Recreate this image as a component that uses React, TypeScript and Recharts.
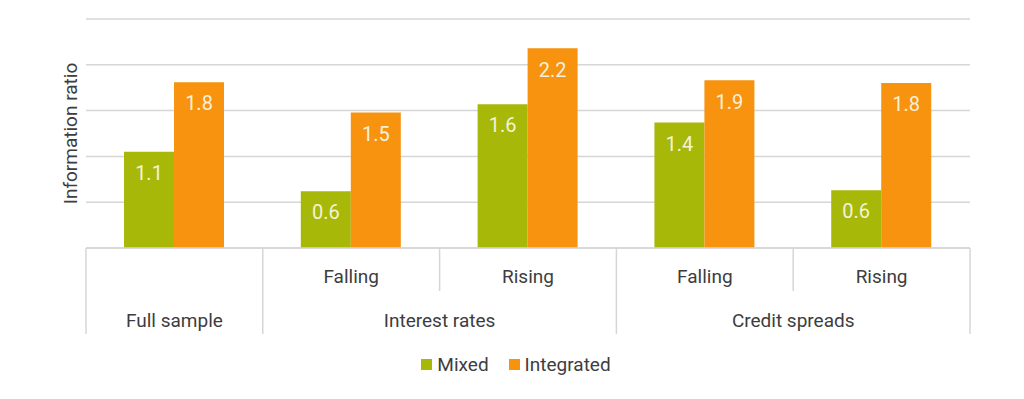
import { Bar, BarChart, CartesianGrid, LabelList, Legend, XAxis, YAxis } from 'recharts';

const groups = ['Full sample', 'Interest rates', 'Interest rates', 'Credit spreads', 'Credit spreads'];
const subs = ['', 'Falling', 'Rising', 'Falling', 'Rising'];
const mixed = [1.05, 0.62, 1.57, 1.37, 0.63];
const integrated = [1.81, 1.48, 2.18, 1.83, 1.8];
const mixedLabels = ['1.1', '0.6', '1.6', '1.4', '0.6'];
const integratedLabels = ['1.8', '1.5', '2.2', '1.9', '1.8'];
const yTicks = [0, 0.5, 1, 1.5, 2, 2.5];

const GREEN = '#a8b808';
const ORANGE = '#f7930e';
const TEXT = '#3d3d3d';
const LINE = '#d6d6d6';
const FONT = 'Roboto, "Noto Sans", sans-serif';

const data = groups.map((g, i) => ({
    key: `${g}|${subs[i]}`,
    mixed: mixed[i],
    integrated: integrated[i],
    mixedLabel: mixedLabels[i],
    integratedLabel: integratedLabels[i],
}));

// y ticks are not shown in the original, only the gridlines
const EmptyTick = (): React.ReactElement => <g />;

const CategoryTick = (props: any): React.ReactElement => {
    const {x, y, index, payload} = props;
    const half = payload?.offset || 88.3;
    const left = x - half;
    const isGroupStart = index === 0 || groups[index] !== groups[index - 1];
    let span = 0;
    if (isGroupStart) {
        while (index + span < groups.length && groups[index + span] === groups[index]) {
            span++;
        }
    }
    const isLast = index === groups.length - 1;
    return (
        <g>
            <line x1={left} x2={left} y1={y} y2={y + (isGroupStart ? 86 : 43)} stroke={LINE} strokeWidth={1.5} />
            {isLast && <line x1={x + half} x2={x + half} y1={y} y2={y + 86} stroke={LINE} strokeWidth={1.5} />}
            {subs[index] && (
                <text x={x} y={y + 28} textAnchor={'middle'} dominantBaseline={'central'} fill={TEXT} fontSize={19} fontFamily={FONT}>
                    {subs[index]}
                </text>
            )}
            {isGroupStart && (
                <text x={left + span * half} y={y + 72} textAnchor={'middle'} dominantBaseline={'central'} fill={TEXT} fontSize={19} fontFamily={FONT}>
                    {groups[index]}
                </text>
            )}
        </g>
    );
};

const LegendContent = (): React.ReactElement => (
    <div style={{display: 'flex', justifyContent: 'center', alignItems: 'center', gap: 20, fontFamily: FONT, fontSize: 19, color: TEXT, height: 24, paddingLeft: 8}}>
        {[{name: 'Mixed', color: GREEN}, {name: 'Integrated', color: ORANGE}].map(item => (
            <span key={item.name} style={{display: 'flex', alignItems: 'center', gap: 5}}>
                <span style={{display: 'inline-block', width: 11, height: 11, background: item.color}} />
                {item.name}
            </span>
        ))}
    </div>
);

export default function App(): React.ReactElement {
    return (
        <div style={{position: 'absolute', left: 0, top: 0, background: '#fff'}}>
            <BarChart
                width={1024}
                height={399}
                data={data}
                margin={{top: 19, right: 54, bottom: 23, left: 0}}
                barCategoryGap={'21.5%'}
                barGap={0}
            >
                <CartesianGrid vertical={false} stroke={LINE} strokeWidth={1.5} />
                <YAxis
                    domain={[0, 2.5]}
                    ticks={yTicks}
                    width={86}
                    tick={EmptyTick}
                    axisLine={false}
                    tickLine={false}
                    label={{value: 'Information ratio', angle: -90, position: 'center', dx: 27, fill: TEXT, fontSize: 19, fontFamily: FONT}}
                />
                <XAxis
                    dataKey={'key'}
                    interval={0}
                    height={104}
                    tickSize={0}
                    tickMargin={0}
                    tickLine={false}
                    axisLine={{stroke: LINE, strokeWidth: 1.5}}
                    tick={CategoryTick}
                />
                <Legend verticalAlign={'bottom'} height={24} content={LegendContent} wrapperStyle={{left: 0, width: 1024}} />
                <Bar dataKey={'mixed'} name={'Mixed'} fill={GREEN} isAnimationActive={false}>
                    <LabelList dataKey={'mixedLabel'} position={'insideTop'} offset={14} fill={'#f4f2dc'} fontSize={20} fontFamily={FONT} />
                </Bar>
                <Bar dataKey={'integrated'} name={'Integrated'} fill={ORANGE} isAnimationActive={false}>
                    <LabelList dataKey={'integratedLabel'} position={'insideTop'} offset={14} fill={'#f8f0dc'} fontSize={20} fontFamily={FONT} />
                </Bar>
            </BarChart>
        </div>
    );
}
